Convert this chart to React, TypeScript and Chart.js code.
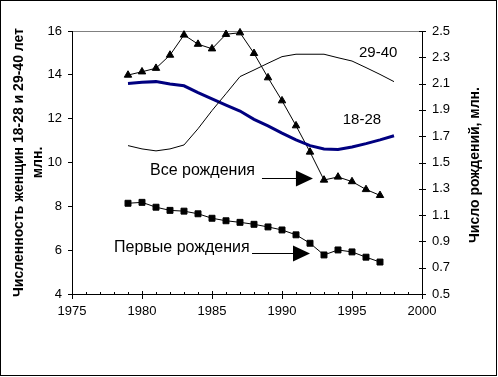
import React, { useEffect, useRef } from "react";
import { Chart, registerables } from "chart.js";

Chart.register(...registerables);

// Years
const yearsBirths = [1979, 1980, 1981, 1982, 1983, 1984, 1985, 1986, 1987, 1988, 1989, 1990, 1991, 1992, 1993, 1994, 1995, 1996, 1997];
const yearsWomen = [1979, 1980, 1981, 1982, 1983, 1984, 1985, 1986, 1987, 1988, 1989, 1990, 1991, 1992, 1993, 1994, 1995, 1996, 1997, 1998];

// Right axis (million births)
const allBirths = [2.165, 2.19, 2.217, 2.317, 2.47, 2.4, 2.365, 2.475, 2.487, 2.33, 2.145, 1.97, 1.78, 1.58, 1.367, 1.39, 1.355, 1.295, 1.25];
const firstBirths = [1.19, 1.197, 1.16, 1.136, 1.13, 1.11, 1.076, 1.057, 1.045, 1.03, 1.01, 0.987, 0.95, 0.886, 0.797, 0.835, 0.82, 0.78, 0.743];

// Left axis (million women)
const women18_28 = [13.61, 13.66, 13.69, 13.58, 13.5, 13.19, 12.9, 12.62, 12.35, 11.97, 11.67, 11.34, 11.03, 10.77, 10.62, 10.59, 10.71, 10.86, 11.03, 11.22];
const women29_40 = [10.77, 10.62, 10.53, 10.62, 10.8, 11.54, 12.37, 13.14, 13.92, 14.22, 14.53, 14.83, 14.94, 14.94, 14.94, 14.78, 14.63, 14.33, 14.02, 13.69];

// Axis ranges / labels
const xRange = [1975, 2000];
const leftRange = [4, 16];
const rightRange = [0.5, 2.5];
const leftTitle = ["Численность женщин 18-28 и 29-40 лет", "млн."];
const rightTitle = "Число рождений, млн.";

// Annotations (data coordinates)
const labelOld = { text: "29-40", x: 1995.5, y: 14.98 };
const labelYoung = { text: "18-28", x: 1994.34, y: 11.95 };
const labelAll = { text: "Все рождения", x: 1980.57, y: 1.439, arrowFrom: 1988.57, arrowTo: 1992.21, arrowY: 1.38 };
const labelFirst = { text: "Первые рождения", x: 1978.0, y: 0.854, arrowFrom: 1987.86, arrowTo: 1992.0, arrowY: 0.812 };

const FONT = "'Liberation Sans', Arial, sans-serif";

const zip = (xs: number[], ys: number[]) => xs.map((x, i) => ({ x, y: ys[i] }));

const customPlugin = {
  id: "customDecor",
  afterDraw(chart: any) {
    const ctx = chart.ctx as CanvasRenderingContext2D;
    const xs = chart.scales.x;
    const yl = chart.scales.y;
    const yr = chart.scales.y1;
    ctx.save();
    ctx.strokeStyle = "#000";
    ctx.fillStyle = "#000";
    ctx.lineWidth = 1;

    // x-axis ticks: major (every 5) crossing, minor (every year) inside
    const axisY = Math.round(xs.top);
    ctx.beginPath();
    for (let yv = xs.min; yv <= xs.max; yv++) {
      const px = Math.round(xs.getPixelForValue(yv)) + 0.5;
      if (yv % 5 === 0) {
        ctx.moveTo(px, axisY - 3);
        ctx.lineTo(px, axisY + 5);
      } else {
        ctx.moveTo(px, axisY - 2);
        ctx.lineTo(px, axisY + 1);
      }
    }
    ctx.stroke();

    // right axis ticks crossing
    const axisX = Math.round(yr.left);
    ctx.beginPath();
    yr.ticks.forEach((t: any) => {
      const py = Math.round(yr.getPixelForValue(t.value)) + 0.5;
      ctx.moveTo(axisX - 3, py);
      ctx.lineTo(axisX + 4, py);
    });
    ctx.stroke();

    // right axis title (reads bottom to top)
    ctx.save();
    ctx.translate(yr.left + 53.5, (yr.top + yr.bottom) / 2 + 2.5);
    ctx.rotate(-Math.PI / 2);
    ctx.font = `bold 14px ${FONT}`;
    ctx.textAlign = "center";
    ctx.textBaseline = "middle";
    ctx.fillText(rightTitle, 0, 0);
    ctx.restore();

    // series labels
    ctx.textAlign = "left";
    ctx.textBaseline = "middle";
    ctx.font = `15px ${FONT}`;
    ctx.fillText(labelOld.text, xs.getPixelForValue(labelOld.x), yl.getPixelForValue(labelOld.y));
    ctx.fillText(labelYoung.text, xs.getPixelForValue(labelYoung.x), yl.getPixelForValue(labelYoung.y));
    ctx.font = `16px ${FONT}`;
    ctx.fillText(labelAll.text, xs.getPixelForValue(labelAll.x), yr.getPixelForValue(labelAll.y));
    ctx.fillText(labelFirst.text, xs.getPixelForValue(labelFirst.x), yr.getPixelForValue(labelFirst.y));

    const arrow = (x0: number, x1: number, y: number) => {
      const headLen = 17;
      const headHalf = 8;
      ctx.beginPath();
      ctx.moveTo(x0, y + 0.5);
      ctx.lineTo(x1 - headLen + 1, y + 0.5);
      ctx.stroke();
      ctx.beginPath();
      ctx.moveTo(x1, y + 0.5);
      ctx.lineTo(x1 - headLen, y + 0.5 - headHalf);
      ctx.lineTo(x1 - headLen, y + 0.5 + headHalf);
      ctx.closePath();
      ctx.fill();
    };
    arrow(
      xs.getPixelForValue(labelAll.arrowFrom),
      xs.getPixelForValue(labelAll.arrowTo),
      Math.round(yr.getPixelForValue(labelAll.arrowY))
    );
    arrow(
      xs.getPixelForValue(labelFirst.arrowFrom),
      xs.getPixelForValue(labelFirst.arrowTo),
      Math.round(yr.getPixelForValue(labelFirst.arrowY))
    );

    // outer frame
    ctx.strokeRect(0.5, 0.5, chart.width - 2, chart.height - 2);
    ctx.restore();
  },
};

export default function App() {
  const ref = useRef<HTMLCanvasElement | null>(null);

  useEffect(() => {
    if (!ref.current) return;
    const chart = new Chart(ref.current, {
      type: "line",
      data: {
        datasets: [
          {
            label: "29-40",
            data: zip(yearsWomen, women29_40),
            yAxisID: "y",
            borderColor: "#000",
            borderWidth: 1,
            pointRadius: 0,
            fill: false,
            tension: 0,
            clip: false as any,
          },
          {
            label: "18-28",
            data: zip(yearsWomen, women18_28),
            yAxisID: "y",
            borderColor: "#000080",
            borderWidth: 3,
            pointRadius: 0,
            fill: false,
            tension: 0,
            clip: false as any,
          },
          {
            label: "Все рождения",
            data: zip(yearsBirths, allBirths),
            yAxisID: "y1",
            borderColor: "#000",
            borderWidth: 1,
            pointStyle: "triangle",
            pointRadius: 4.3,
            pointBackgroundColor: "#000",
            pointBorderColor: "#000",
            pointBorderWidth: 1,
            fill: false,
            tension: 0,
            clip: false as any,
          },
          {
            label: "Первые рождения",
            data: zip(yearsBirths, firstBirths),
            yAxisID: "y1",
            borderColor: "#000",
            borderWidth: 1,
            pointStyle: "rect",
            pointRadius: 4.2,
            pointBackgroundColor: "#000",
            pointBorderColor: "#000",
            pointBorderWidth: 1,
            fill: false,
            tension: 0,
            clip: false as any,
          },
        ],
      },
      options: {
        responsive: false,
        maintainAspectRatio: false,
        animation: false,
        events: [],
        layout: { padding: { top: 31, left: 0, right: 0, bottom: 0 }, autoPadding: false },
        plugins: {
          legend: { display: false },
          tooltip: { enabled: false },
          title: { display: false },
        },
        scales: {
          x: {
            type: "linear",
            position: "bottom",
            min: xRange[0],
            max: xRange[1],
            ticks: {
              stepSize: 5,
              color: "#000",
              font: { family: FONT, size: 13 },
              padding: 10,
              maxRotation: 0,
              callback: (v: any) => String(v),
            },
            grid: { display: false, drawTicks: false },
            border: { display: true, color: "#000", width: 1 },
            afterFit: (s: any) => {
              s.height = 83;
            },
          },
          y: {
            type: "linear",
            position: "left",
            min: leftRange[0],
            max: leftRange[1],
            ticks: {
              stepSize: 2,
              color: "#000",
              font: { family: FONT, size: 13 },
              padding: 6,
              callback: (v: any) => String(v),
            },
            grid: {
              display: true,
              drawOnChartArea: true,
              drawTicks: true,
              tickLength: 4,
              tickColor: "#000",
              color: (c: any) => (c.tick && c.tick.value === leftRange[1] ? "#808080" : "rgba(0,0,0,0)"),
            },
            border: { display: true, color: "#000", width: 1 },
            title: {
              display: true,
              text: leftTitle,
              color: "#000",
              font: { family: FONT, size: 14, weight: "bold", lineHeight: 19 / 14 },
              padding: { top: 9.5, bottom: 0 },
            },
            afterFit: (s: any) => {
              s.width = 72;
            },
          },
          y1: {
            type: "linear",
            position: "right",
            min: rightRange[0],
            max: rightRange[1],
            ticks: {
              stepSize: 0.2,
              color: "#000",
              font: { family: FONT, size: 13 },
              padding: 10,
              callback: (v: any) => Number(v).toFixed(1),
            },
            grid: { display: false, drawTicks: false },
            border: { display: true, color: "#000", width: 1 },
            afterFit: (s: any) => {
              s.width = 76;
            },
          },
        },
      },
      plugins: [customPlugin],
    });
    return () => chart.destroy();
  }, []);

  return (
    <div style={{ position: "fixed", left: 0, top: 0, width: 498, height: 377, background: "#fff" }}>
      <canvas ref={ref} width={498} height={377} style={{ display: "block", width: 498, height: 377 }} />
    </div>
  );
}
